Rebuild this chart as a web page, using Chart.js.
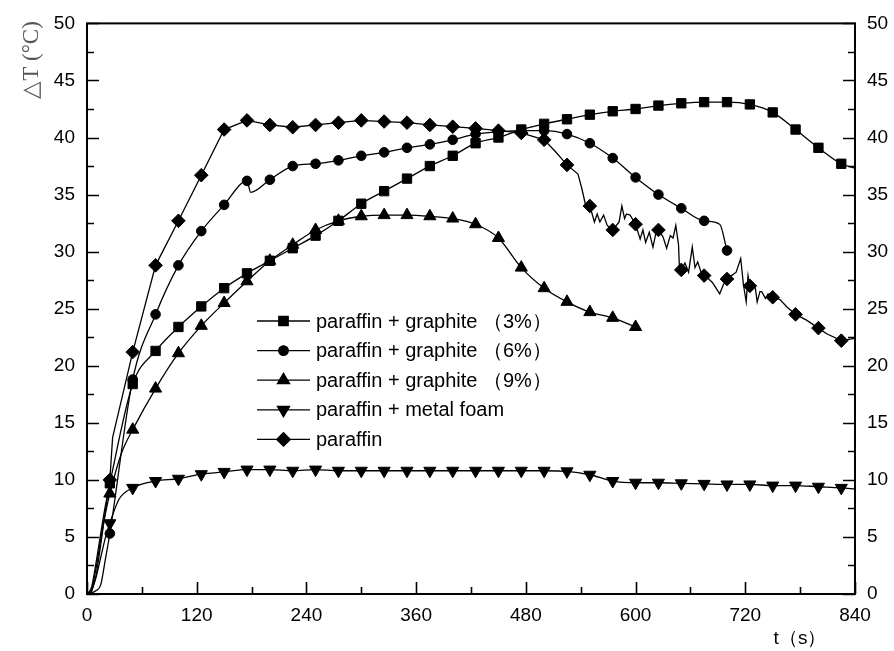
<!DOCTYPE html>
<html><head><meta charset="utf-8">
<script src="https://cdn.jsdelivr.net/npm/chart.js@4.4.0/dist/chart.umd.min.js"></script>
<style>html,body{margin:0;padding:0;background:#fff}canvas{display:block}</style>
</head><body>
<canvas id="c" width="894" height="651"></canvas>
<script>
// ---- data ----
const seriesLabels = [
  'paraffin + graphite （3%）',
  'paraffin + graphite （6%）',
  'paraffin + graphite （9%）',
  'paraffin + metal foam',
  'paraffin'
];
const xTickValues = [0,120,240,360,480,600,720,840];
const yTickValues = [0,5,10,15,20,25,30,35,40,45,50];

const tG3 = [0,5,10,15,20,25,50,75,100,125,150,175,200,225,250,275,300,325,350,375,400,425,450,475,500,525,550,575,600,625,650,675,700,725,750,775,800,825,840];
const vG3 = [0,0.6,2.8,5.3,7.7,9.7,18.4,21.3,23.4,25.2,26.8,28.1,29.2,30.3,31.4,32.7,34.2,35.3,36.4,37.5,38.4,39.5,40.0,40.7,41.2,41.6,42.0,42.3,42.5,42.8,43.0,43.1,43.1,42.9,42.2,40.7,39.1,37.7,37.3];

const tG6 = [0,5,10,15,20,25,50,75,100,125,150,175,179,200,225,250,275,300,325,350,375,400,425,450,475,500,525,550,575,600,625,650,675,692,700];
const vG6 = [0,0.1,0.3,0.8,3.0,5.3,18.8,24.5,28.8,31.8,34.1,36.2,35.2,36.3,37.5,37.7,38.0,38.4,38.7,39.1,39.4,39.8,40.3,40.5,40.6,40.6,40.3,39.5,38.2,36.5,35.0,33.8,32.7,32.4,30.1];

const tG9 = [0,5,10,15,20,25,38,50,75,100,125,150,175,200,225,250,275,300,325,350,375,400,425,450,475,500,525,550,575,600];
const vG9 = [0,0.4,2.3,4.8,7.0,8.8,12.4,14.4,18.0,21.1,23.5,25.5,27.4,29.2,30.6,31.9,32.7,33.1,33.2,33.2,33.1,32.9,32.4,31.2,28.6,26.8,25.6,24.7,24.2,23.4];

const tFoam = [0,5,10,15,20,25,35,50,75,100,125,150,175,200,225,250,275,300,325,350,375,400,425,450,475,500,525,550,575,600,625,650,675,700,725,750,775,800,825,840];
const vFoam = [0,0.3,1.5,3.2,4.9,6.2,8.3,9.3,9.9,10.1,10.5,10.7,10.9,10.9,10.8,10.9,10.8,10.8,10.8,10.8,10.8,10.8,10.8,10.8,10.8,10.8,10.75,10.45,9.9,9.75,9.75,9.7,9.65,9.6,9.6,9.5,9.5,9.4,9.3,9.2];

const tPar = [0,5,10,15,20,25,28,50,75,100,125,150,175,200,225,250,275,300,325,350,375,400,425,450,475,500,512,525,537,541,545,550,555,558,561,565,569,575,582,585,588,590,594,597,600,605,608,611,615,619,623,625,630,634,638,641,644,647,648,650,654,658,662,665,668,672,675,680,684,688,692,696,700,705,710,715,718,721,723,725,729,731,733,736,738,742,745,750,758,765,775,787,800,809,825,840];
const vPar = [0,0.2,1.6,4.3,7.2,10.0,13.7,21.2,28.8,32.7,36.7,40.7,41.5,41.1,40.9,41.1,41.3,41.5,41.4,41.3,41.1,40.95,40.8,40.6,40.4,39.8,38.8,37.6,36.8,35.6,34.2,34.0,32.6,33.3,32.6,33.2,32.3,31.9,32.6,34.0,32.9,33.3,33.2,32.8,32.4,31.1,31.9,30.8,31.7,30.4,31.9,31.9,31.3,30.3,31.4,31.2,32.3,30.6,28.5,28.4,29.0,28.2,30.4,28.6,29.1,28.1,27.9,27.6,27.3,26.8,26.3,27.1,27.6,27.9,28.2,29.4,27.1,25.6,27.9,27.0,27.2,26.8,25.6,26.5,26.5,25.9,26.3,26.0,25.8,25.2,24.5,24.0,23.3,22.8,22.2,22.4];

// ---- build chart ----
const zip = (t, v) => t.map((x, i) => ({x: x, y: v[i]}));
const markerStyles = [
  {pointStyle: 'rect', radius: 6.6, rotation: 0},
  {pointStyle: 'circle', radius: 4.8, rotation: 0},
  {pointStyle: 'triangle', radius: 7, rotation: 0},
  {pointStyle: 'triangle', radius: 7, rotation: 180},
  {pointStyle: 'rectRot', radius: 6.8, rotation: 0}
];
const seriesData = [zip(tG3, vG3), zip(tG6, vG6), zip(tG9, vG9), zip(tFoam, vFoam), zip(tPar, vPar)];

const datasets = seriesData.map((d, i) => ({
  label: seriesLabels[i],
  data: d,
  borderColor: '#000',
  backgroundColor: '#000',
  borderWidth: 1.3,
  pointStyle: markerStyles[i].pointStyle,
  pointRotation: markerStyles[i].rotation,
  pointBorderWidth: 1,
  pointBorderColor: '#000',
  pointBackgroundColor: '#000',
  pointRadius: ctx => (ctx.raw && ctx.raw.x > 0 && ctx.raw.x % 25 === 0) ? markerStyles[i].radius : 0,
  pointHoverRadius: 0,
  cubicInterpolationMode: i === 4 ? 'default' : 'monotone',
  tension: i === 4 ? 0 : 0.4,
  fill: false
}));

const FONT = '"Liberation Sans", Arial, sans-serif';

const frameTicks = {
  id: 'frameTicks',
  afterDatasetsDraw(chart) {
    const ctx = chart.ctx, a = chart.chartArea;
    const xs = chart.scales.x, ys = chart.scales.y;
    ctx.save();
    ctx.strokeStyle = '#000';
    ctx.lineWidth = 2;
    ctx.strokeRect(a.left, a.top, a.right - a.left, a.bottom - a.top);
    ctx.lineWidth = 1.6;
    ctx.beginPath();
    for (let v = xs.min; v <= xs.max + 0.001; v += 60) {
      const p = Math.round(xs.getPixelForValue(v)) + 0.5;
      const len = (v % 120 === 0) ? 12 : 7;
      ctx.moveTo(p, a.bottom); ctx.lineTo(p, a.bottom - len);
    }
    for (let v = ys.min; v <= ys.max + 0.001; v += 2.5) {
      const p = Math.round(ys.getPixelForValue(v)) + 0.5;
      const len = (v % 5 === 0) ? 12 : 7;
      ctx.moveTo(a.left, p); ctx.lineTo(a.left + len, p);
      ctx.moveTo(a.right, p); ctx.lineTo(a.right - len, p);
    }
    ctx.stroke();
    ctx.restore();
  },
  afterDraw(chart) {
    const ctx = chart.ctx;
    ctx.save();
    // legend inside plot
    chart.data.datasets.forEach((ds, i) => {
      const y = 321 + i * 29.6;
      ctx.strokeStyle = '#000';
      ctx.lineWidth = 1.3;
      ctx.beginPath(); ctx.moveTo(257, y); ctx.lineTo(310, y); ctx.stroke();
      ctx.fillStyle = '#000';
      Chart.helpers.drawPoint(ctx, {
        pointStyle: markerStyles[i].pointStyle,
        rotation: markerStyles[i].rotation,
        radius: markerStyles[i].radius,
        borderWidth: 1
      }, 283.5, y);
      ctx.fill();
      ctx.font = '20px ' + FONT;
      ctx.textBaseline = 'middle';
      ctx.textAlign = 'left';
      ctx.fillText(ds.label, 316, y + 1);
    });
    // axis titles
    ctx.fillStyle = '#000';
    ctx.font = '19px ' + FONT;
    ctx.textAlign = 'center';
    ctx.textBaseline = 'middle';
    ctx.fillText('t（s）', 800, 639);
    ctx.translate(32, 60);
    ctx.rotate(-Math.PI / 2);
    ctx.fillStyle = '#555';
    ctx.font = '23px "Liberation Serif", "Times New Roman", serif';
    ctx.fillText('△T (°C)', 0, 0);
    ctx.restore();
  }
};

const tickFont = {family: FONT, size: 19};

new Chart(document.getElementById('c'), {
  type: 'line',
  data: {datasets: datasets},
  options: {
    responsive: false,
    animation: false,
    devicePixelRatio: 1,
    layout: {padding: {top: 20, left: 0, right: 0, bottom: 0}},
    plugins: {legend: {display: false}, tooltip: {enabled: false}},
    scales: {
      x: {
        type: 'linear', min: 0, max: 840,
        afterBuildTicks: s => { s.ticks = xTickValues.map(v => ({value: v})); },
        afterFit: s => { s.height = 57; },
        ticks: {font: tickFont, color: '#000', padding: 10, maxRotation: 0, autoSkip: false},
        grid: {display: false, drawTicks: false},
        border: {display: false}
      },
      y: {
        type: 'linear', position: 'left', min: 0, max: 50,
        afterBuildTicks: s => { s.ticks = yTickValues.map(v => ({value: v})); },
        afterFit: s => { s.width = 87; },
        ticks: {font: tickFont, color: '#000', padding: 12, autoSkip: false},
        grid: {display: false, drawTicks: false},
        border: {display: false}
      },
      y2: {
        type: 'linear', position: 'right', min: 0, max: 50,
        afterBuildTicks: s => { s.ticks = yTickValues.map(v => ({value: v})); },
        afterFit: s => { s.width = 39; },
        ticks: {font: tickFont, color: '#000', padding: 12, autoSkip: false},
        grid: {display: false, drawTicks: false},
        border: {display: false}
      }
    }
  },
  plugins: [frameTicks]
});
</script>
</body></html>
